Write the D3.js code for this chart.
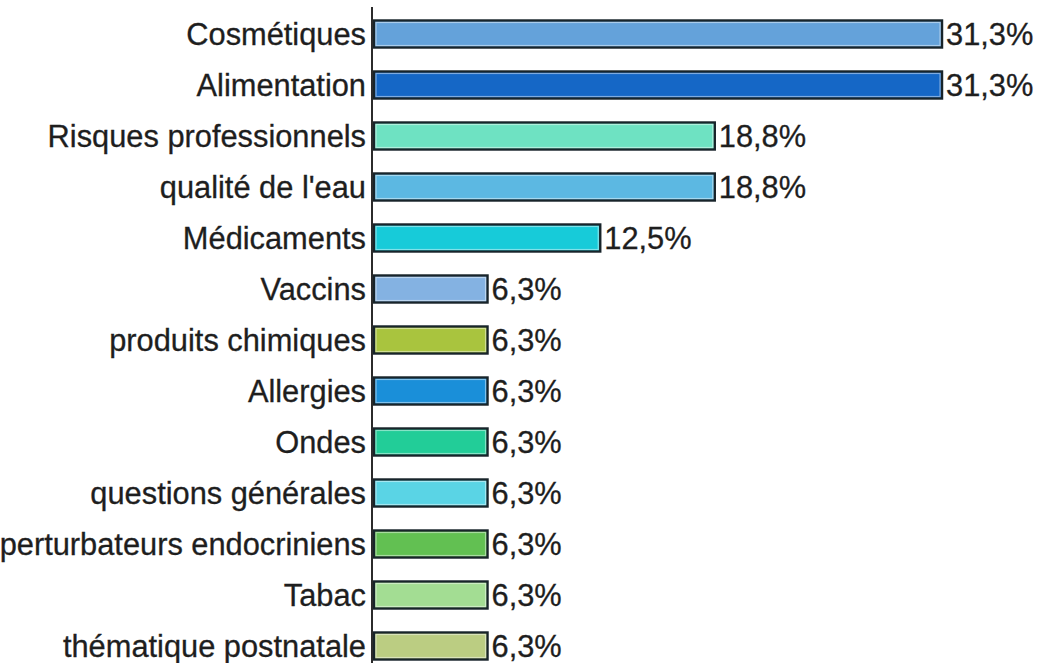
<!DOCTYPE html>
<html>
<head>
<meta charset="utf-8">
<script src="https://cdn.jsdelivr.net/npm/d3@7"></script>
<style>
  body { margin: 0; background: #fff; }
  text { font-family: "Liberation Sans", Arial, sans-serif; }
</style>
</head>
<body>
<div id="chart"></div>
<script>
// data
let categories = ["Cosmétiques", "Alimentation", "Risques professionnels", "qualité de l'eau",
    "Médicaments", "Vaccins", "produits chimiques", "Allergies", "Ondes",
    "questions générales", "perturbateurs endocriniens", "Tabac", "thématique postnatale"];
let values = [31.3, 31.3, 18.8, 18.8, 12.5, 6.3, 6.3, 6.3, 6.3, 6.3, 6.3, 6.3, 6.3];
let barColors = ["#64a2da", "#1567c6", "#6ee2c2", "#5cb8e2", "#17cbd9", "#84b2e2", "#a9c43e",
    "#1a8fd9", "#22cd98", "#5ad4e5", "#62c052", "#a3dd93", "#bbcd82"];

let w = 1046, h = 663;
let axis_x = 373;

let svg = d3.select("#chart")
    .append("svg")
    .attr("width", w)
    .attr("height", h);

let y = d3.scaleBand()
    .domain(categories)
    .range([8.5, 671.5])
    .paddingInner(0.47)
    .paddingOuter(0.235);

let x = d3.scaleLinear()
    .domain([0, 35])
    .range([axis_x, axis_x + 35 * 18.18]);

let color = d3.scaleOrdinal(categories, barColors);

let fr = d3.formatLocale({decimal: ",", thousands: " ", grouping: [3], currency: ["", "€"]});
let fmt = v => fr.format(".1f")(v) + "%";

let rows = categories.map((c, i) => ({name: c, value: values[i]}));

// bars
svg.selectAll(".bar")
    .data(rows)
    .enter()
    .append("rect")
    .attr("class", "bar")
    .attr("x", x(0) + 1)
    .attr("y", d => y(d.name))
    .attr("width", d => x(d.value) - x(0) - 1)
    .attr("height", y.bandwidth())
    .attr("fill", d => color(d.name))
    .attr("stroke", "#18242a")
    .attr("stroke-width", 2.4);

// light inner edge
svg.selectAll(".bar_hi")
    .data(rows)
    .enter()
    .append("rect")
    .attr("class", "bar_hi")
    .attr("x", x(0) + 3)
    .attr("y", d => y(d.name) + 2)
    .attr("width", d => x(d.value) - x(0) - 5)
    .attr("height", y.bandwidth() - 4)
    .attr("fill", "none")
    .attr("stroke", "#ffffff")
    .attr("stroke-opacity", 0.45)
    .attr("stroke-width", 1.2);

// category labels
svg.selectAll(".cat")
    .data(rows)
    .enter()
    .append("text")
    .attr("class", "cat")
    .attr("x", axis_x - 7)
    .attr("y", d => y(d.name) + y.bandwidth() / 2)
    .attr("dy", "0.37em")
    .attr("text-anchor", "end")
    .attr("font-size", 30.8)
    .attr("fill", "#1e1e1e")
    .attr("stroke", "#1e1e1e")
    .attr("stroke-width", 0.3)
    .text(d => d.name);

// value labels
svg.selectAll(".val")
    .data(rows)
    .enter()
    .append("text")
    .attr("class", "val")
    .attr("x", d => x(d.value) + 4)
    .attr("y", d => y(d.name) + y.bandwidth() / 2)
    .attr("dy", "0.37em")
    .attr("font-size", 30.8)
    .attr("fill", "#1e1e1e")
    .attr("stroke", "#1e1e1e")
    .attr("stroke-width", 0.3)
    .text(d => fmt(d.value));

// vertical axis line
svg.append("line")
    .attr("x1", axis_x - 1)
    .attr("x2", axis_x - 1)
    .attr("y1", 7)
    .attr("y2", h)
    .attr("stroke", "#2b2b2b")
    .attr("stroke-width", 2);
</script>
</body>
</html>
